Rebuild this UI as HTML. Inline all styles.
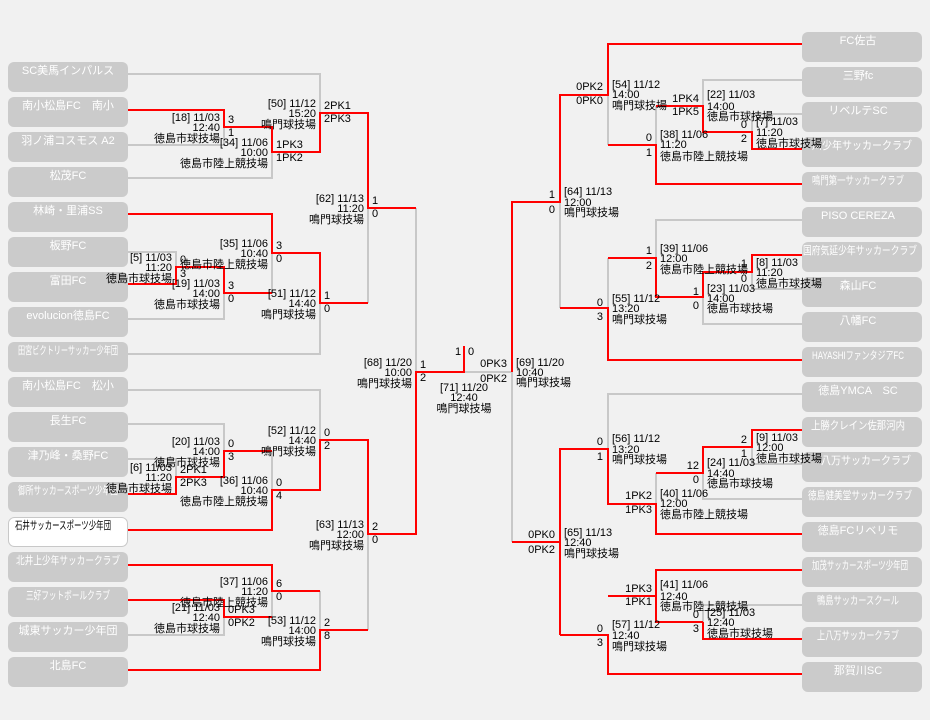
<!DOCTYPE html>
<html><head><meta charset="utf-8"><style>
html,body{margin:0;padding:0;background:#f1f1f1;}
svg{display:block;}
text{font-family:"Liberation Sans","Noto Sans CJK JP",sans-serif;font-size:11px;fill:#000;}
.t{fill:#fff;font-size:11px;}
</style></head><body>
<svg width="930" height="720" viewBox="0 0 930 720" xmlns="http://www.w3.org/2000/svg">
<rect width="930" height="720" fill="#f1f1f1"/>
<g fill="#cbcbcb">
<rect x="8" y="62" width="120" height="30" rx="6"/><rect x="8" y="97" width="120" height="30" rx="6"/><rect x="8" y="132" width="120" height="30" rx="6"/><rect x="8" y="167" width="120" height="30" rx="6"/><rect x="8" y="202" width="120" height="30" rx="6"/><rect x="8" y="237" width="120" height="30" rx="6"/><rect x="8" y="272" width="120" height="30" rx="6"/><rect x="8" y="307" width="120" height="30" rx="6"/><rect x="8" y="342" width="120" height="30" rx="6"/><rect x="8" y="377" width="120" height="30" rx="6"/><rect x="8" y="412" width="120" height="30" rx="6"/><rect x="8" y="447" width="120" height="30" rx="6"/><rect x="8" y="482" width="120" height="30" rx="6"/><rect x="8" y="552" width="120" height="30" rx="6"/><rect x="8" y="587" width="120" height="30" rx="6"/><rect x="8" y="622" width="120" height="30" rx="6"/><rect x="8" y="657" width="120" height="30" rx="6"/>
<rect x="802" y="32" width="120" height="30" rx="6"/><rect x="802" y="67" width="120" height="30" rx="6"/><rect x="802" y="102" width="120" height="30" rx="6"/><rect x="802" y="137" width="120" height="30" rx="6"/><rect x="802" y="172" width="120" height="30" rx="6"/><rect x="802" y="207" width="120" height="30" rx="6"/><rect x="802" y="242" width="120" height="30" rx="6"/><rect x="802" y="277" width="120" height="30" rx="6"/><rect x="802" y="312" width="120" height="30" rx="6"/><rect x="802" y="347" width="120" height="30" rx="6"/><rect x="802" y="382" width="120" height="30" rx="6"/><rect x="802" y="417" width="120" height="30" rx="6"/><rect x="802" y="452" width="120" height="30" rx="6"/><rect x="802" y="487" width="120" height="30" rx="6"/><rect x="802" y="522" width="120" height="30" rx="6"/><rect x="802" y="557" width="120" height="30" rx="6"/><rect x="802" y="592" width="120" height="30" rx="6"/><rect x="802" y="627" width="120" height="30" rx="6"/><rect x="802" y="662" width="120" height="30" rx="6"/>
</g>
<rect x="8.5" y="517.5" width="119" height="29" rx="6" fill="#fff" stroke="#c8c8c8"/>
<g text-anchor="middle" transform="translate(0,-2)">
<text class="t" x="68" y="76">SC美馬インパルス</text>
<text class="t" x="68" y="111">南小松島FC　南小</text>
<text class="t" x="68" y="146">羽ノ浦コスモス A2</text>
<text class="t" x="68" y="181">松茂FC</text>
<text class="t" x="68" y="216">林崎・里浦SS</text>
<text class="t" x="68" y="251">板野FC</text>
<text class="t" x="68" y="286">富田FC</text>
<text class="t" x="68" y="321">evolucion徳島FC</text>
<text class="t" x="68" y="356" textLength="100" lengthAdjust="spacingAndGlyphs">田宮ビクトリーサッカー少年団</text>
<text class="t" x="68" y="391">南小松島FC　松小</text>
<text class="t" x="68" y="426">長生FC</text>
<text class="t" x="68" y="461">津乃峰・桑野FC</text>
<text class="t" x="68" y="496" textLength="100" lengthAdjust="spacingAndGlyphs">御所サッカースポーツ少年団</text>
<text x="63" y="531" textLength="96" lengthAdjust="spacingAndGlyphs">石井サッカースポーツ少年団</text>
<text class="t" x="68" y="566" textLength="104" lengthAdjust="spacingAndGlyphs">北井上少年サッカークラブ</text>
<text class="t" x="68" y="601" textLength="84" lengthAdjust="spacingAndGlyphs">三好フットボールクラブ</text>
<text class="t" x="68" y="636">城東サッカー少年団</text>
<text class="t" x="68" y="671">北島FC</text>
<text class="t" x="858" y="46">FC佐古</text>
<text class="t" x="858" y="81">三野fc</text>
<text class="t" x="858" y="116">リベルテSC</text>
<text class="t" x="862" y="151" textLength="100" lengthAdjust="spacingAndGlyphs">川少年サッカークラブ</text>
<text class="t" x="858" y="186" textLength="92" lengthAdjust="spacingAndGlyphs">鳴門第一サッカークラブ</text>
<text class="t" x="858" y="221">PISO CEREZA</text>
<text class="t" x="860" y="256" textLength="114" lengthAdjust="spacingAndGlyphs">国府気延少年サッカークラブ</text>
<text class="t" x="858" y="291">森山FC</text>
<text class="t" x="858" y="326">八幡FC</text>
<text class="t" x="858" y="361" textLength="92" lengthAdjust="spacingAndGlyphs">HAYASHIファンタジアFC</text>
<text class="t" x="858" y="396">徳島YMCA　SC</text>
<text class="t" x="858" y="431" textLength="94" lengthAdjust="spacingAndGlyphs">上勝クレイン佐那河内</text>
<text class="t" x="866" y="466" textLength="90" lengthAdjust="spacingAndGlyphs">八万サッカークラブ</text>
<text class="t" x="860" y="501" textLength="104" lengthAdjust="spacingAndGlyphs">徳島健美堂サッカークラブ</text>
<text class="t" x="858" y="536">徳島FCリベリモ</text>
<text class="t" x="860" y="571" textLength="96" lengthAdjust="spacingAndGlyphs">加茂サッカースポーツ少年団</text>
<text class="t" x="858" y="606" textLength="82" lengthAdjust="spacingAndGlyphs">鴨島サッカースクール</text>
<text class="t" x="858" y="641" textLength="82" lengthAdjust="spacingAndGlyphs">上八万サッカークラブ</text>
<text class="t" x="858" y="676">那賀川SC</text>
</g>
<g fill="none" stroke="#c8c8c8" stroke-width="2">
<path d="M128,74H320V113M128,145H224V127M128,178H272V152M368,303V208M128,252H176V267M128,319H224V293M272,293V253M128,354H320V303M416,208V372M128,390H320V440M128,424H224V451M128,459H176V477M272,451V490M128,635H224V617M272,617V591M320,591V630M368,630V534M464,372H512V542"/>
<path d="M802,80H703V106M802,114H752V132M656,106V145M608,145V95M802,220H656V258M802,289H752V272M802,324H703V297M608,258V308M560,308V202M802,394H608V449M802,464H752V447M802,499H703V473M656,473V504M802,605H703V622"/>
</g>
<g fill="none" stroke="#ff0000" stroke-width="2">
<path d="M128,110H224V127H272V152H320V113H368V208H416M128,214H272V253H320V303H368M128,284H176V267H224V293H272M128,494H176V477H224V451H272M128,530H272V490H320V440H368V534H416V372H464V346M128,565H272V591H320M128,600H224V617H272M128,670H320V630H368"/>
<path d="M802,44H608V95H560V202H512V372M802,149H752V132H703V106H656M802,184H656V145H608M802,255H752V272H703V297H656V258H608M802,360H608V308H560M802,430H752V447H703V473H656M802,534H656V504H608V449H560V635M560,542H512M802,570H656V622H703M656,596H608M802,639H703V622M802,674H608V635H560"/>
</g>
<g text-anchor="end">
<text x="220" y="121">[18] 11/03</text><text x="220" y="131">12:40</text><text x="220" y="142">徳島市球技場</text>
<text x="268" y="146">[34] 11/06</text><text x="268" y="156">10:00</text><text x="268" y="167">徳島市陸上競技場</text>
<text x="316" y="107">[50] 11/12</text><text x="316" y="117">15:20</text><text x="316" y="128">鳴門球技場</text>
<text x="364" y="202">[62] 11/13</text><text x="364" y="212">11:20</text><text x="364" y="223">鳴門球技場</text>
<text x="172" y="261">[5] 11/03</text><text x="172" y="271">11:20</text><text x="172" y="282">徳島市球技場</text>
<text x="220" y="287">[19] 11/03</text><text x="220" y="297">14:00</text><text x="220" y="308">徳島市球技場</text>
<text x="268" y="247">[35] 11/06</text><text x="268" y="257">10:40</text><text x="268" y="268">徳島市陸上競技場</text>
<text x="316" y="297">[51] 11/12</text><text x="316" y="307">14:40</text><text x="316" y="318">鳴門球技場</text>
<text x="412" y="366">[68] 11/20</text><text x="412" y="376">10:00</text><text x="412" y="387">鳴門球技場</text>
<text x="316" y="434">[52] 11/12</text><text x="316" y="444">14:40</text><text x="316" y="455">鳴門球技場</text>
<text x="220" y="445">[20] 11/03</text><text x="220" y="455">14:00</text><text x="220" y="466">徳島市球技場</text>
<text x="172" y="471">[6] 11/03</text><text x="172" y="481">11:20</text><text x="172" y="492">徳島市球技場</text>
<text x="268" y="484">[36] 11/06</text><text x="268" y="494">10:40</text><text x="268" y="505">徳島市陸上競技場</text>
<text x="364" y="528">[63] 11/13</text><text x="364" y="538">12:00</text><text x="364" y="549">鳴門球技場</text>
<text x="268" y="585">[37] 11/06</text><text x="268" y="595">11:20</text><text x="268" y="606">徳島市陸上競技場</text>
<text x="220" y="611">[21] 11/03</text><text x="220" y="621">12:40</text><text x="220" y="632">徳島市球技場</text>
<text x="316" y="624">[53] 11/12</text><text x="316" y="634">14:00</text><text x="316" y="645">鳴門球技場</text>
<text x="603" y="90">0PK2</text><text x="603" y="104">0PK0</text>
<text x="699" y="102">1PK4</text><text x="699" y="115">1PK5</text>
<text x="747" y="128">0</text><text x="747" y="142">2</text>
<text x="652" y="141">0</text><text x="652" y="156">1</text>
<text x="555" y="198">1</text><text x="555" y="213">0</text>
<text x="652" y="254">1</text><text x="652" y="269">2</text>
<text x="747" y="267">1</text><text x="747" y="282">0</text>
<text x="699" y="295">1</text><text x="699" y="309">0</text>
<text x="603" y="306">0</text><text x="603" y="320">3</text>
<text x="507" y="367">0PK3</text><text x="507" y="382">0PK2</text>
<text x="603" y="445">0</text><text x="603" y="460">1</text>
<text x="747" y="443">2</text><text x="747" y="457">1</text>
<text x="699" y="469">12</text><text x="699" y="483">0</text>
<text x="652" y="499">1PK2</text><text x="652" y="513">1PK3</text>
<text x="555" y="538">0PK0</text><text x="555" y="553">0PK2</text>
<text x="652" y="592">1PK3</text><text x="652" y="605">1PK1</text>
<text x="699" y="618">0</text><text x="699" y="632">3</text>
<text x="603" y="632">0</text><text x="603" y="646">3</text>
</g>
<g text-anchor="start">
<text x="228" y="123">3</text><text x="228" y="136">1</text>
<text x="276" y="148">1PK3</text><text x="276" y="161">1PK2</text>
<text x="324" y="109">2PK1</text><text x="324" y="122">2PK3</text>
<text x="372" y="204">1</text><text x="372" y="217">0</text>
<text x="180" y="263">0</text><text x="180" y="277">3</text>
<text x="228" y="289">3</text><text x="228" y="302">0</text>
<text x="276" y="249">3</text><text x="276" y="262">0</text>
<text x="324" y="299">1</text><text x="324" y="312">0</text>
<text x="420" y="368">1</text><text x="420" y="381">2</text>
<text x="324" y="436">0</text><text x="324" y="449">2</text>
<text x="228" y="447">0</text><text x="228" y="460">3</text>
<text x="180" y="473">2PK1</text><text x="180" y="486">2PK3</text>
<text x="276" y="486">0</text><text x="276" y="499">4</text>
<text x="372" y="530">2</text><text x="372" y="543">0</text>
<text x="276" y="587">6</text><text x="276" y="600">0</text>
<text x="228" y="613">0PK3</text><text x="228" y="626">0PK2</text>
<text x="324" y="626">2</text><text x="324" y="639">8</text>
<text x="612" y="88">[54] 11/12</text><text x="612" y="98">14:00</text><text x="612" y="109">鳴門球技場</text>
<text x="707" y="98">[22] 11/03</text><text x="707" y="110">14:00</text><text x="707" y="120">徳島市球技場</text>
<text x="756" y="125">[7] 11/03</text><text x="756" y="136">11:20</text><text x="756" y="147">徳島市球技場</text>
<text x="660" y="138">[38] 11/06</text><text x="660" y="148">11:20</text><text x="660" y="160">徳島市陸上競技場</text>
<text x="564" y="195">[64] 11/13</text><text x="564" y="206">12:00</text><text x="564" y="216">鳴門球技場</text>
<text x="660" y="252">[39] 11/06</text><text x="660" y="262">12:00</text><text x="660" y="273">徳島市陸上競技場</text>
<text x="756" y="266">[8] 11/03</text><text x="756" y="276">11:20</text><text x="756" y="287">徳島市球技場</text>
<text x="707" y="292">[23] 11/03</text><text x="707" y="302">14:00</text><text x="707" y="312">徳島市球技場</text>
<text x="612" y="302">[55] 11/12</text><text x="612" y="312">13:20</text><text x="612" y="323">鳴門球技場</text>
<text x="516" y="366">[69] 11/20</text><text x="516" y="376">10:40</text><text x="516" y="386">鳴門球技場</text>
<text x="612" y="442">[56] 11/12</text><text x="612" y="453">13:20</text><text x="612" y="463">鳴門球技場</text>
<text x="756" y="441">[9] 11/03</text><text x="756" y="451">12:00</text><text x="756" y="462">徳島市球技場</text>
<text x="707" y="466">[24] 11/03</text><text x="707" y="477">14:40</text><text x="707" y="487">徳島市球技場</text>
<text x="660" y="497">[40] 11/06</text><text x="660" y="507">12:00</text><text x="660" y="518">徳島市陸上競技場</text>
<text x="564" y="536">[65] 11/13</text><text x="564" y="546">12:40</text><text x="564" y="557">鳴門球技場</text>
<text x="660" y="588">[41] 11/06</text><text x="660" y="600">12:40</text><text x="660" y="610">徳島市陸上競技場</text>
<text x="707" y="616">[25] 11/03</text><text x="707" y="626">12:40</text><text x="707" y="637">徳島市球技場</text>
<text x="612" y="628">[57] 11/12</text><text x="612" y="639">12:40</text><text x="612" y="650">鳴門球技場</text>
</g>
<g text-anchor="middle">
<text x="458" y="355">1</text><text x="471" y="355">0</text>
<text x="464" y="391">[71] 11/20</text><text x="464" y="401">12:40</text><text x="464" y="412">鳴門球技場</text>
</g>
</svg>
</body></html>
